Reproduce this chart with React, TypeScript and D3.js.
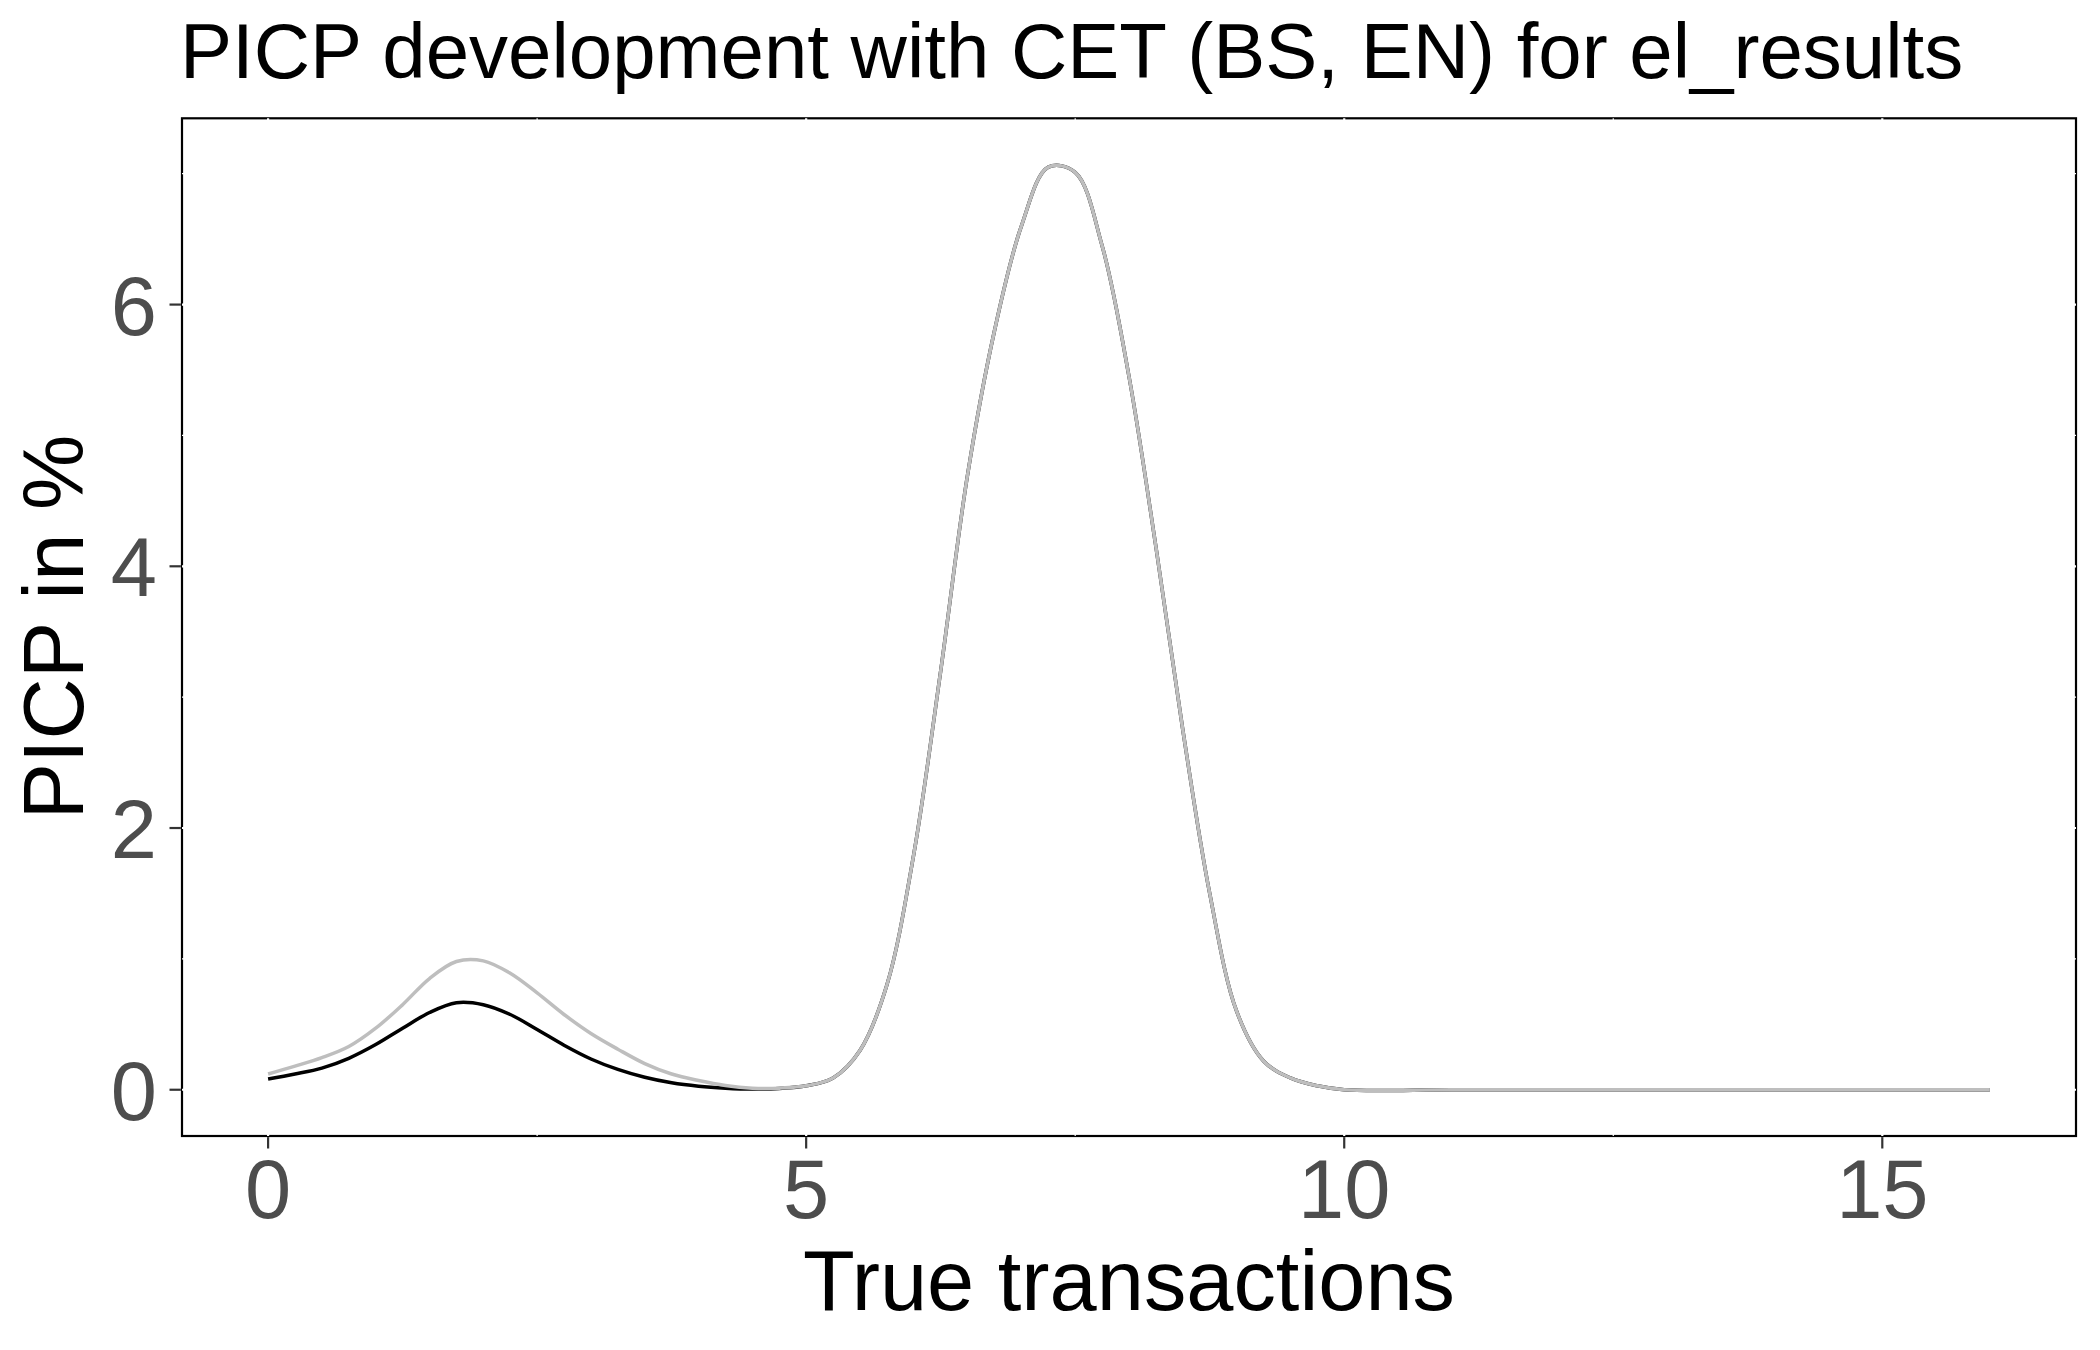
import React from 'react';
import * as d3 from 'd3';

const TITLE = 'PICP development with CET (BS, EN) for el_results';
const X_LABEL = 'True transactions';
const Y_LABEL = 'PICP in %';

const TRANSACTIONS = [
  0, 0.25, 0.5, 0.75, 1, 1.25, 1.5, 1.75, 2, 2.25, 2.5, 2.75, 3, 3.25, 3.5, 3.75,
  4, 4.25, 4.5, 4.75, 5, 5.25, 5.5, 5.75, 6, 6.25, 6.5, 6.75, 7, 7.25, 7.5, 7.75,
  8, 8.25, 8.5, 8.75, 9, 9.25, 9.5, 9.75, 10, 11, 12, 13, 14, 15, 16,
];

const PICP_BLACK = [
  0.082, 0.12, 0.165, 0.24, 0.345, 0.47, 0.59, 0.665, 0.65, 0.575, 0.46, 0.34, 0.235, 0.155, 0.095, 0.053,
  0.027, 0.012, 0.005, 0.01, 0.03, 0.09, 0.3, 0.8, 1.8, 3.2, 4.7, 5.8, 6.6, 7.05, 7.01, 6.45,
  5.45, 4.15, 2.75, 1.5, 0.6, 0.22, 0.09, 0.03, 0, 0, 0, 0, 0, 0, 0,
];

const PICP_GRAY = [
  0.12, 0.18, 0.245, 0.33, 0.47, 0.65, 0.85, 0.98, 0.985, 0.89, 0.74, 0.575, 0.43, 0.31, 0.2, 0.12,
  0.07, 0.032, 0.012, 0.012, 0.03, 0.09, 0.3, 0.8, 1.8, 3.2, 4.7, 5.8, 6.6, 7.05, 7.01, 6.45,
  5.45, 4.15, 2.75, 1.5, 0.6, 0.22, 0.09, 0.03, 0, 0, 0, 0, 0, 0, 0,
];

const X_TICKS = [0, 5, 10, 15];
const X_MINOR = [2.5, 7.5, 12.5];
const Y_TICKS = [0, 2, 4, 6];
const Y_MINOR = [1, 3, 5, 7];

const FONT = '"Liberation Sans", Arial, Helvetica, sans-serif';

export default function App() {
  const W = 2100;
  const H = 1350;
  const panel = { left: 182, right: 2076, top: 118.3, bottom: 1136 };

  const xExt = d3.extent(TRANSACTIONS) as [number, number];
  const xPad = (xExt[1] - xExt[0]) * 0.05;
  const x = d3.scaleLinear().domain([xExt[0] - xPad, xExt[1] + xPad]).range([panel.left, panel.right]);

  const yExt = d3.extent([...PICP_BLACK, ...PICP_GRAY]) as [number, number];
  const yTop = Math.max(yExt[1], 7.07);
  const yPad = (yTop - yExt[0]) * 0.05;
  const y = d3.scaleLinear().domain([yExt[0] - yPad, yTop + yPad]).range([panel.bottom, panel.top]);

  const line = d3
    .line<number>()
    .x((_, i) => x(TRANSACTIONS[i]))
    .y((d) => y(d))
    .curve(d3.curveCatmullRom.alpha(0.5));

  const tickColor = '#333333';
  const labelColor = '#4d4d4d';

  return (
    <svg
      width={W}
      height={H}
      style={{ position: 'absolute', left: 0, top: 0, background: '#fff' }}
      fontFamily={FONT}
    >
      <rect x={0} y={0} width={W} height={H} fill="#fff" />
      <text x={180} y={78} fontSize={78} fill="#000">
        {TITLE}
      </text>
      <rect
        x={panel.left}
        y={panel.top}
        width={panel.right - panel.left}
        height={panel.bottom - panel.top}
        fill="#fff"
        stroke="#000"
        strokeWidth={2.2}
      />
      {X_TICKS.map((t) => (
        <line key={'gx' + t} x1={x(t)} x2={x(t)} y1={panel.top} y2={panel.bottom} stroke="#fff" strokeWidth={2.2} />
      ))}
      {X_MINOR.map((t) => (
        <line key={'gxm' + t} x1={x(t)} x2={x(t)} y1={panel.top} y2={panel.bottom} stroke="#fff" strokeWidth={1.2} />
      ))}
      {Y_TICKS.map((t) => (
        <line key={'gy' + t} x1={panel.left} x2={panel.right} y1={y(t)} y2={y(t)} stroke="#fff" strokeWidth={2.2} />
      ))}
      {Y_MINOR.map((t) => (
        <line key={'gym' + t} x1={panel.left} x2={panel.right} y1={y(t)} y2={y(t)} stroke="#fff" strokeWidth={1.2} />
      ))}
      <path d={line(PICP_BLACK) || ''} fill="none" stroke="#000" strokeWidth={3.5} strokeLinejoin="round" />
      <path d={line(PICP_GRAY) || ''} fill="none" stroke="#bebebe" strokeWidth={3.5} strokeLinejoin="round" />
      {X_TICKS.map((t) => (
        <g key={'xt' + t}>
          <line x1={x(t)} x2={x(t)} y1={panel.bottom + 1.1} y2={panel.bottom + 12.5} stroke={tickColor} strokeWidth={2.2} />
          <text x={x(t)} y={1218} fontSize={83} fill={labelColor} textAnchor="middle">
            {t}
          </text>
        </g>
      ))}
      {Y_TICKS.map((t) => (
        <g key={'yt' + t}>
          <line x1={panel.left - 12.5} x2={panel.left - 1.1} y1={y(t)} y2={y(t)} stroke={tickColor} strokeWidth={2.2} />
          <text x={157} y={y(t) + 30} fontSize={83} fill={labelColor} textAnchor="end">
            {t}
          </text>
        </g>
      ))}
      <text x={(panel.left + panel.right) / 2} y={1310} fontSize={84.8} fill="#000" textAnchor="middle">
        {X_LABEL}
      </text>
      <text
        transform={`translate(83, ${(panel.top + panel.bottom) / 2}) rotate(-90)`}
        fontSize={84.8}
        fill="#000"
        textAnchor="middle"
      >
        {Y_LABEL}
      </text>
    </svg>
  );
}
